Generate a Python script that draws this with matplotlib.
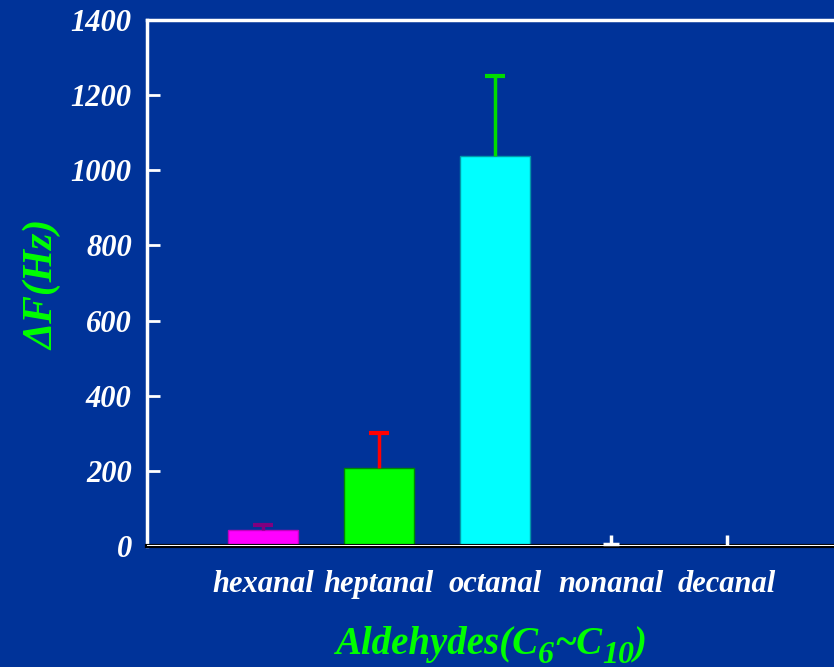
import numpy as np
import matplotlib.pyplot as plt

names = ["hexanal", "heptanal", "octanal", "nonanal", "decanal"]
values = [42, 208, 1038, 0, 0]
errors = [15, 92, 212, 30, 30]
bar_colors = ["#FF00FF", "#00FF00", "#00FFFF", "#003399", "#003399"]
edge_colors = ["#C000C0", "#008800", "#0099AA", "#003399", "#003399"]
err_colors = ["#800080", "#FF0000", "#00DD00", "white", "white"]

bg = "#003399"
green = "#00FF00"
plt.rcParams["font.family"] = "Liberation Serif"
plt.rcParams["font.weight"] = "bold"
plt.rcParams["font.style"] = "italic"

fig = plt.figure(figsize=(8.34, 6.67), dpi=100, facecolor=bg)
ax = fig.add_axes([147 / 834, 1 - 546 / 667, (843 - 147) / 834, (546 - 20) / 667])
ax.set_facecolor(bg)

x = np.arange(len(names))
ax.bar(x, values, width=0.6, color=bar_colors, edgecolor=edge_colors, linewidth=1, zorder=2)
for i in range(len(names)):
    ax.errorbar(x[i], values[i], yerr=[[0], [errors[i]]], fmt="none",
                ecolor=err_colors[i], elinewidth=2.5, capsize=0, zorder=3)
    if i < 3:
        ax.plot(x[i], values[i] + errors[i], marker="_", ms=14, mew=3,
                color=err_colors[i], zorder=3)
ax.plot(x[3], values[3] + 5, marker="_", ms=12, mew=2.5, color="white", zorder=3)

ax.set_xlim(-1, 5)
ax.set_ylim(0, 1400)
ax.set_yticks(range(0, 1401, 200))
ax.set_xticks(x)
ax.set_xticklabels(names)
ax.tick_params(axis="x", length=0, pad=17, labelsize=22, labelcolor="white")
ax.tick_params(axis="y", direction="in", length=9, width=2, color="white",
               labelsize=22, labelcolor="white", pad=11)

for s in ["top", "left"]:
    ax.spines[s].set_color("white")
    ax.spines[s].set_linewidth(2.5)
ax.spines["right"].set_visible(False)
ax.spines["bottom"].set_color("black")
ax.spines["bottom"].set_linewidth(3)
ax.axhline(0, color="white", lw=1.5, zorder=4)

ax.set_ylabel("\u0394F(Hz)", color=green, fontsize=30, fontweight="bold")
ax.yaxis.set_label_coords(-(147 - 62) / 696, (546 - 285) / 526)

# x label in pieces so the subscripts keep the bold italic face
t = fig.text(335 / 834, 1 - 654 / 667, "Aldehydes(C", color=green, fontsize=28,
             fontweight="bold", ha="left", va="baseline")
parts = [("6", True), ("~C", False), ("10", True), (")", False)]
prev = t
for s, sub in parts:
    dy = -5 if sub else 5
    prev = ax.annotate(s, xy=(1, 0), xycoords=prev, xytext=(0, dy),
                       textcoords="offset points", color=green, fontweight="bold",
                       fontsize=23 if sub else 28, ha="left", va="bottom",
                       annotation_clip=False)

plt.savefig("out.png", dpi=100, facecolor=bg)
